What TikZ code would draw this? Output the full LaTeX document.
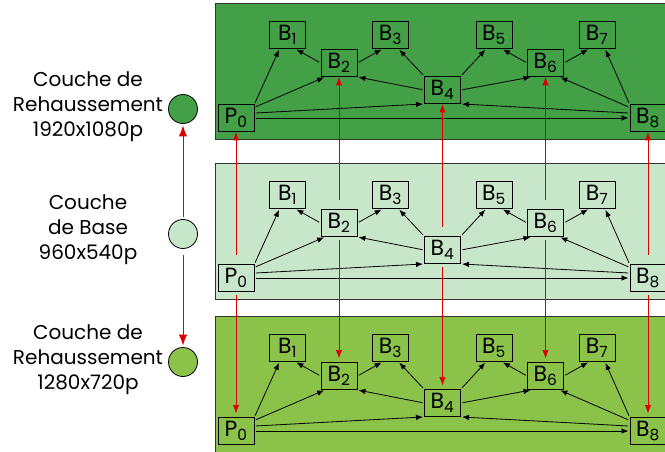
\documentclass[tikz,border=0pt]{standalone}
\usepackage{fontspec}
\setmainfont{Poppins}
\usetikzlibrary{arrows.meta}
\definecolor{topgreen}{HTML}{43A047}
\definecolor{basegreen}{HTML}{C8E6C9}
\definecolor{lowgreen}{HTML}{8BC34A}
\definecolor{panelgray}{HTML}{333333}
\definecolor{linkred}{HTML}{DD0000}

\begin{document}
\begin{tikzpicture}[
  x=1pt, y=-1pt,
  >=Latex,
  panel/.style={draw=panelgray, line width=0.9pt},
  frame/.style={draw, line width=0.9pt, minimum width=36pt, minimum height=27pt, inner sep=0pt, font=\fontsize{22}{24}\selectfont},
  arrow/.style={-{Latex[length=7pt,width=5.5pt]}, line width=0.8pt, shorten <=1.5pt, shorten >=1pt},
  interlayer/.style={-{Latex[length=8.5pt,width=6.5pt]}, draw=linkred, line width=1pt},
  dot/.style={circle, draw, line width=0.8pt, minimum size=29pt, inner sep=0pt},
  legend/.style={align=center, font=\fontsize{20}{25}\selectfont}
]
\useasboundingbox (0,0) rectangle (665,452);
% one panel per layer, same GOP in each
\foreach \lay/\dy/\col in {top/0/topgreen, mid/160/basegreen, bot/313/lowgreen} {
  \path[panel, fill=\col] (215,3+\dy) rectangle (670,139+\dy);
  \node[frame] (\lay-P0) at (236,118+\dy) {P\textsubscript{0}};
  \foreach \k/\x/\y in {1/287.5/35, 2/339/63, 3/390.5/35, 4/442.5/90, 5/494/35, 6/545.5/63, 7/597/35, 8/648/118}
    \node[frame] (\lay-B\k) at (\x,\y+\dy) {B\textsubscript{\k}};
  \foreach \a/\b in {P0.north east/B1.-120, P0.30/B2.-135, P0.15/B4.south west, P0.east/B8.west,
                     B2.west/B1.-60, B2.east/B3.-120, B4.north west/B3.-60, B4.west/B2.south east,
                     B4.north east/B5.-120, B4.east/B6.-135, B6.west/B5.-60, B6.east/B7.-120,
                     B8.north west/B7.-60, B8.150/B6.-45, B8.165/B4.south east}
    \draw[arrow] (\lay-\a) -- (\lay-\b);
}
% links between the layers
\foreach \n in {P0,B2,B4,B6,B8} {
  \draw[interlayer, shorten <=9pt] (mid-\n.north) -- (top-\n.south);
  \draw[interlayer, shorten <=3pt, shorten >=3.5pt] (mid-\n.south) -- (bot-\n.north);
}
% legend
\node[dot, fill=topgreen] (dot-top) at (183,109) {};
\node[dot, fill=basegreen] (dot-mid) at (183,234) {};
\node[dot, fill=lowgreen] (dot-bot) at (183,362) {};
\node[legend] (text-top) at (88,107) {Couche de\\Rehaussement\\1920x1080p};
\node[legend] (text-mid) at (88,229.5) {Couche\\de Base\\960x540p};
\node[legend] (text-bot) at (88,360) {Couche de\\Rehaussement\\1280x720p};
\draw[interlayer, -{Latex[length=11pt,width=8.5pt]}, shorten <=2.5pt, shorten >=1.5pt] (dot-mid) -- (dot-top);
\draw[interlayer, -{Latex[length=11pt,width=8.5pt]}, shorten <=6.5pt, shorten >=1.5pt] (dot-mid) -- (dot-bot);
\end{tikzpicture}
\end{document}
